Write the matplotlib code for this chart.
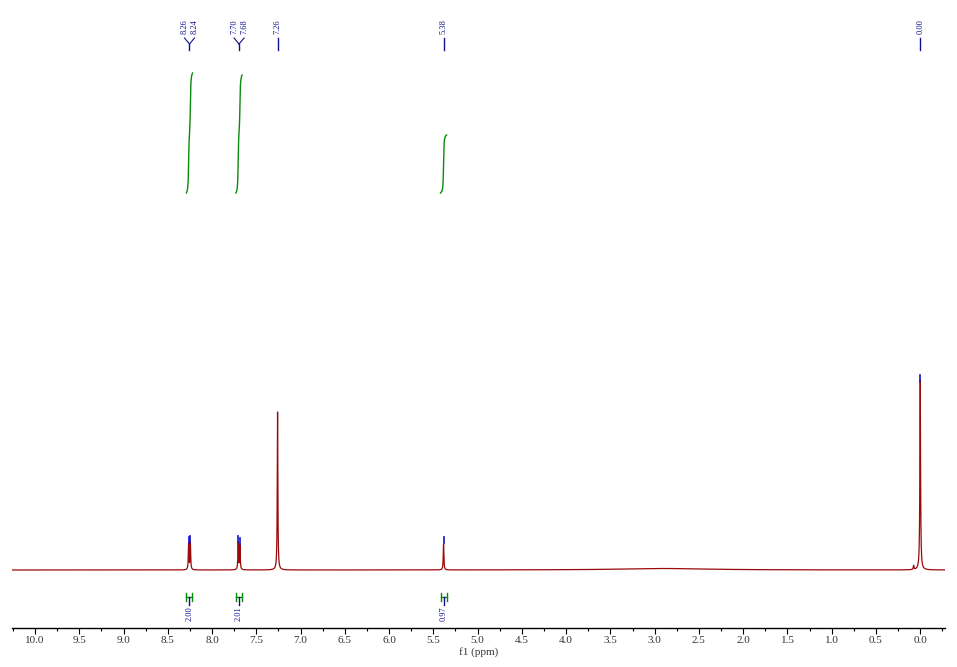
import numpy as np
import matplotlib
matplotlib.use("Agg")
import matplotlib.pyplot as plt
from matplotlib.ticker import MultipleLocator, FormatStrFormatter

# ---- data ----
peak_ppm = [8.265, 8.245, 7.705, 7.685, 7.26, 5.385, 0.00, 0.075, 2.9]
peak_height = [26, 27, 27, 25, 158, 26, 190, 4, 1.5]
peak_width = [0.004, 0.004, 0.004, 0.004, 0.004, 0.004, 0.0045, 0.004, 0.6]

pick_ppm = [8.265, 8.245, 7.705, 7.685, 5.385, 0.00]
pick_top = [27, 28, 28, 26, 27, 189]

label_groups = [["8.26", "8.24"], ["7.70", "7.68"], ["7.26"], ["5.38"], ["0.00"]]
label_center = [8.255, 7.695, 7.26, 5.385, 0.00]

integral_center = [8.255, 7.695, 5.385]
integral_value = ["2.00", "2.01", "0.97"]
integral_height = [120, 118, 58]

tick_labels_fmt = "%.1f"

PXPPM = 88.5  # pixels per ppm
SPINE = 628   # pixel row of the axis line

fig = plt.figure(figsize=(9.57, 6.67), dpi=100)
ax = fig.add_axes([12 / 957, (667 - SPINE) / 667, 933 / 957, SPINE / 667])
x_left, x_right = 10.26, -0.28
ax.set_xlim(x_left, x_right)
ax.set_ylim(570 - SPINE, 570)

x = np.linspace(x_left, x_right, 40000)
y = np.zeros_like(x)
for c, h, w in zip(peak_ppm, peak_height, peak_width):
    y += h * w**2 / ((x - c) ** 2 + w**2)
ax.plot(x, y, color="#9b0a0a", lw=0.9, zorder=3)

# peak-pick markers
for p, t in zip(pick_ppm, pick_top):
    ax.plot([p, p], [t, t + 6], color="#1010c0", lw=1.2, zorder=4)

# integral curves
green = "#0a8a0a"
for c, h in zip(integral_center, integral_height):
    m = (x < c + 0.035) & (x > c - 0.035)
    xs = x[m]
    ys = np.zeros_like(xs)
    for pc, ph, pw in zip(peak_ppm, peak_height, peak_width):
        if abs(pc - c) < 0.05:
            ys += ph * pw**2 / ((xs - pc) ** 2 + pw**2)
    cs = np.cumsum(ys)
    cs = cs / cs[-1]
    ax.plot(xs, 377 + cs * h, color=green, lw=1.0, zorder=3)

# top peak labels
blue = "#101090"
for grp, c in zip(label_groups, label_center):
    n = len(grp)
    for i, lab in enumerate(grp):
        tx = c + ((n - 1) / 2 - i) * 10 / PXPPM
        ax.text(tx, 551, lab, rotation=90, ha="center", va="top",
                fontsize=6, color=blue, family="Liberation Serif")
        if n > 1:
            ax.plot([tx, c], [532, 526], color=blue, lw=0.8)
    if n > 1:
        ax.plot([c, c], [526, 520], color=blue, lw=1.0)
    else:
        ax.plot([c, c], [532, 520], color=blue, lw=1.0)

# integral labels at bottom
for c, v in zip(integral_center, integral_value):
    d = 3 / PXPPM
    ax.plot([c - d, c + d], [-27, -27], color=green, lw=1.0)
    ax.plot([c - d, c - d], [-23, -31], color=green, lw=1.0)
    ax.plot([c + d, c + d], [-23, -31], color=green, lw=1.0)
    ax.plot([c, c], [-27, -35], color=blue, lw=1.0)
    ax.text(c, -36, v, rotation=90, ha="center", va="top",
            fontsize=6, color=blue, family="Liberation Serif")

for s in ["top", "left", "right"]:
    ax.spines[s].set_visible(False)
ax.spines["bottom"].set_linewidth(1.0)
ax.set_yticks([])
ax.xaxis.set_major_locator(MultipleLocator(0.5))
ax.xaxis.set_minor_locator(MultipleLocator(0.25))
ax.xaxis.set_major_formatter(FormatStrFormatter(tick_labels_fmt))
ax.tick_params(axis="x", which="major", length=4, width=0.8, labelsize=8,
               labelcolor="#333333", pad=2)
ax.tick_params(axis="x", which="minor", length=2, width=0.8)
for lab in ax.get_xticklabels():
    lab.set_family("Liberation Serif")
ax.set_xlabel("f1 (ppm)", fontsize=8, family="Liberation Serif", color="#333333", labelpad=1)

fig.savefig("out.png", dpi=100)
